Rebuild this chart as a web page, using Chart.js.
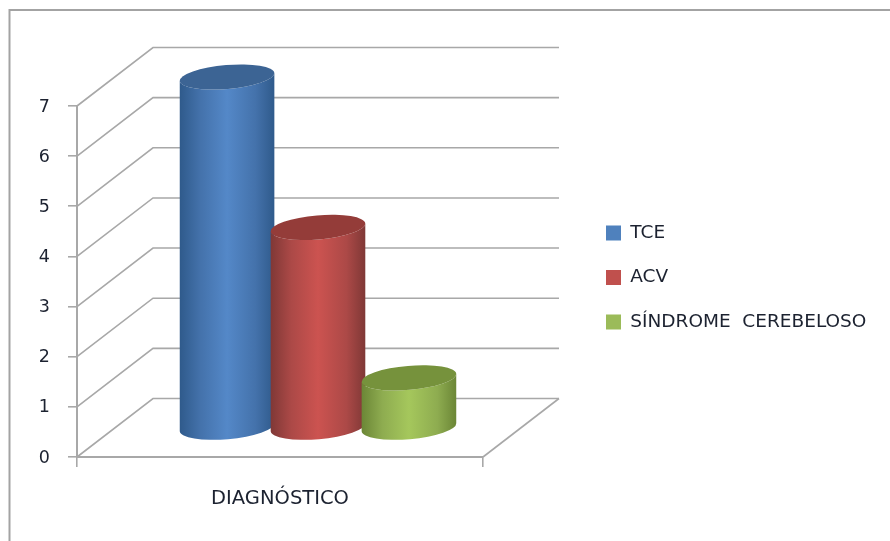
<!DOCTYPE html>
<html>
<head>
<meta charset="utf-8">
<script src="https://cdn.jsdelivr.net/npm/chart.js@4/dist/chart.umd.min.js"></script>
<style>
html,body{margin:0;padding:0;background:#fff;overflow:hidden}
#wrap{width:890px;height:541px}
canvas{display:block;filter:blur(0.45px)}
</style>
</head>
<body>
<div id="wrap"><canvas id="c" width="890" height="541"></canvas></div>
<script>
const categories = ["DIAGNÓSTICO"];
const seriesNames = ["TCE", "ACV", "SÍNDROME  CEREBELOSO"];
const tce = [7];
const acv = [4];
const sindrome = [1];
const yTicks = [0, 1, 2, 3, 4, 5, 6, 7];

const legendColors = ["#4f81bd", "#c0504d", "#9bbb59"];
const cylColors = [
  {edge:"#2f5a8b", near:"#4472ab", mid:"#5488c8", top:"#3c6494"},
  {edge:"#7f3836", near:"#ac4947", mid:"#cc5350", top:"#943c39"},
  {edge:"#6b8636", near:"#8eac50", mid:"#a5c75c", top:"#76923c"}
];
const GRID = "#a8a8a8";
const TEXT = "#1c2230";
const FONT = "'DejaVu Sans', 'Open Sans', sans-serif";

const scene3d = {
  id: "scene3d",
  beforeDraw(chart) {
    const ctx = chart.ctx;
    ctx.save();
    ctx.strokeStyle = "#a3a3a3";
    ctx.lineWidth = 2;
    ctx.beginPath();
    ctx.moveTo(9.5, 541);
    ctx.lineTo(9.5, 10);
    ctx.lineTo(890, 10);
    ctx.stroke();
    ctx.restore();
  },
  afterLayout(chart) {
    const l = chart.legend;
    const w = l.width, h = l.height;
    l.left = 606 - chart.options.plugins.legend.labels.padding;
    l.right = l.left + w;
    l.top = 197.75;
    l.bottom = l.top + h;
  },
  beforeDatasetsDraw(chart) {
    const ctx = chart.ctx;
    const a = chart.chartArea;
    const y = chart.scales.y;
    const backDx = 76, backDy = 58.5;
    ctx.save();
    ctx.strokeStyle = GRID;
    ctx.lineWidth = 1.6;
    y.ticks.forEach(t => {
      const py = y.getPixelForValue(t.value);
      ctx.beginPath();
      ctx.moveTo(a.left, py);
      ctx.lineTo(a.left + backDx, py - backDy);
      ctx.lineTo(a.right + backDx, py - backDy);
      ctx.stroke();
    });
    ctx.beginPath();
    ctx.moveTo(a.right, a.bottom);
    ctx.lineTo(a.right + backDx, a.bottom - backDy);
    ctx.stroke();
    ctx.restore();

    const midDx = 38, midDy = 29;
    const rot = -0.085, ry = 12;
    [0, 1, 2].forEach(i => {
      const bar = chart.getDatasetMeta(i).data[0];
      const cx = bar.x + midDx;
      const topY = bar.y - midDy;
      const botY = bar.base - midDy;
      const rx = bar.width / 2 + 2;
      const c = cylColors[i];
      const g = ctx.createLinearGradient(cx - rx, 0, cx + rx, 0);
      g.addColorStop(0, c.edge);
      g.addColorStop(0.22, c.near);
      g.addColorStop(0.5, c.mid);
      g.addColorStop(0.8, c.near);
      g.addColorStop(1, c.edge);
      ctx.save();
      ctx.fillStyle = g;
      ctx.beginPath();
      ctx.ellipse(cx, botY, rx, ry, rot, 0, Math.PI);
      ctx.lineTo(cx - rx * Math.cos(rot), topY - rx * Math.sin(rot));
      ctx.ellipse(cx, topY, rx, ry, rot, Math.PI, 0, true);
      ctx.closePath();
      ctx.fill();
      ctx.fillStyle = c.top;
      ctx.beginPath();
      ctx.ellipse(cx, topY, rx, ry, rot, 0, Math.PI * 2);
      ctx.fill();
      ctx.restore();
    });
    return false;
  }
};

new Chart(document.getElementById("c"), {
  type: "bar",
  data: {
    labels: categories,
    datasets: [
      {label: seriesNames[0], data: tce, backgroundColor: legendColors[0]},
      {label: seriesNames[1], data: acv, backgroundColor: legendColors[1]},
      {label: seriesNames[2], data: sindrome, backgroundColor: legendColors[2]}
    ]
  },
  plugins: [scene3d],
  options: {
    responsive: false,
    animation: false,
    layout: {padding: {top: 106, right: 407, left: 0, bottom: 0}},
    categoryPercentage: 0.672,
    barPercentage: 1,
    scales: {
      x: {
        afterFit(s) { s.height = 84; },
        grid: {offset: true, drawOnChartArea: false, drawTicks: true, tickLength: 10, color: GRID, lineWidth: 1.6},
        border: {display: true, color: GRID, width: 2},
        ticks: {color: TEXT, padding: 20, maxRotation: 0, font: {family: FONT, size: 19.5}}
      },
      y: {
        min: 0,
        max: 7,
        afterFit(s) { s.width = 77; },
        afterBuildTicks(s) { s.ticks = yTicks.map(v => ({value: v})); },
        grid: {drawOnChartArea: false, drawTicks: true, tickLength: 9, color: GRID, lineWidth: 1.6},
        border: {display: true, color: GRID, width: 2},
        ticks: {color: TEXT, padding: 18, labelOffset: 1, font: {family: FONT, size: 17.5}}
      }
    },
    plugins: {
      title: {display: false},
      tooltip: {enabled: false},
      legend: {
        position: "chartArea",
        align: "start",
        labels: {
          boxWidth: 15,
          boxHeight: 15,
          padding: 26,
          color: TEXT,
          font: {family: FONT, size: 18.5}
        }
      }
    }
  }
});
</script>
</body>
</html>
